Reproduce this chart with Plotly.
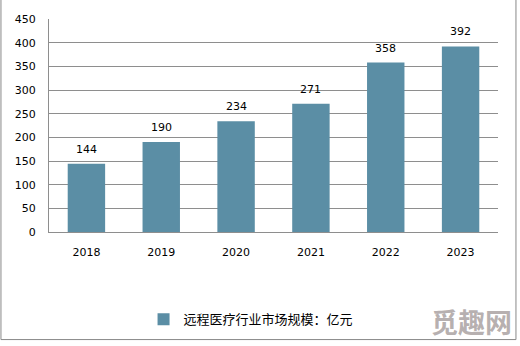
import plotly.graph_objects as go

years = ["2018", "2019", "2020", "2021", "2022", "2023"]
market_size = [144, 190, 234, 271, 358, 392]
series_name = "远程医疗行业市场规模：亿元"
y_ticks = [0, 50, 100, 150, 200, 250, 300, 350, 400, 450]

bar_color = "#5b8ea5"
grid_color = "#8e8e8e"
font_family = "DejaVu Sans, Verdana, sans-serif"

fig = go.Figure()
fig.add_trace(go.Bar(
    x=years,
    y=market_size,
    name=series_name,
    marker=dict(color=bar_color, line=dict(width=0)),
    showlegend=True,
))

# value labels above each bar (category axis: position by index)
for i, v in enumerate(market_size):
    fig.add_annotation(
        x=i, y=v, text=str(v), showarrow=False,
        yanchor="bottom", yshift=6,
        font=dict(family=font_family, size=11, color="#000000"),
    )

# faint site mark in the lower right corner
fig.add_annotation(
    xref="paper", yref="paper", x=1.035, y=-0.42,
    xanchor="right", yanchor="middle",
    text="<b>觅趣网</b>", showarrow=False,
    font=dict(family="Noto Sans CJK SC", size=27, color="rgba(160,150,150,0.75)"),
)

# outer chart frame
fig.add_shape(
    type="rect", xref="paper", yref="paper",
    x0=-0.107, x1=1.04, y0=-0.505, y1=1.1,
    line=dict(color="#888888", width=1), fillcolor="rgba(0,0,0,0)",
    layer="below",
)

fig.update_layout(
    width=520, height=346,
    margin=dict(l=49, r=22, t=19, b=112),
    paper_bgcolor="#ffffff",
    plot_bgcolor="#ffffff",
    bargap=0.5,
    font=dict(family=font_family, size=11, color="#000000"),
    legend=dict(
        orientation="h", x=0.45, xanchor="center",
        y=-0.41, yanchor="middle",
        font=dict(family="Noto Sans CJK SC", size=13, color="#000000"),
        itemwidth=30,
    ),
    xaxis=dict(
        type="category",
        range=[-0.5, len(years) - 0.5],
        showgrid=False,
        showline=True, linecolor=grid_color, linewidth=1,
        ticks="", ticklabelstandoff=10,
        tickfont=dict(family=font_family, size=11),
    ),
    yaxis=dict(
        range=[0, 450],
        tickvals=y_ticks,
        showgrid=True, gridcolor=grid_color, gridwidth=1,
        showline=True, linecolor=grid_color, linewidth=1,
        zeroline=False,
        ticks="", ticklabelstandoff=10,
        tickfont=dict(family=font_family, size=11),
    ),
)

fig.write_html("out.html")
